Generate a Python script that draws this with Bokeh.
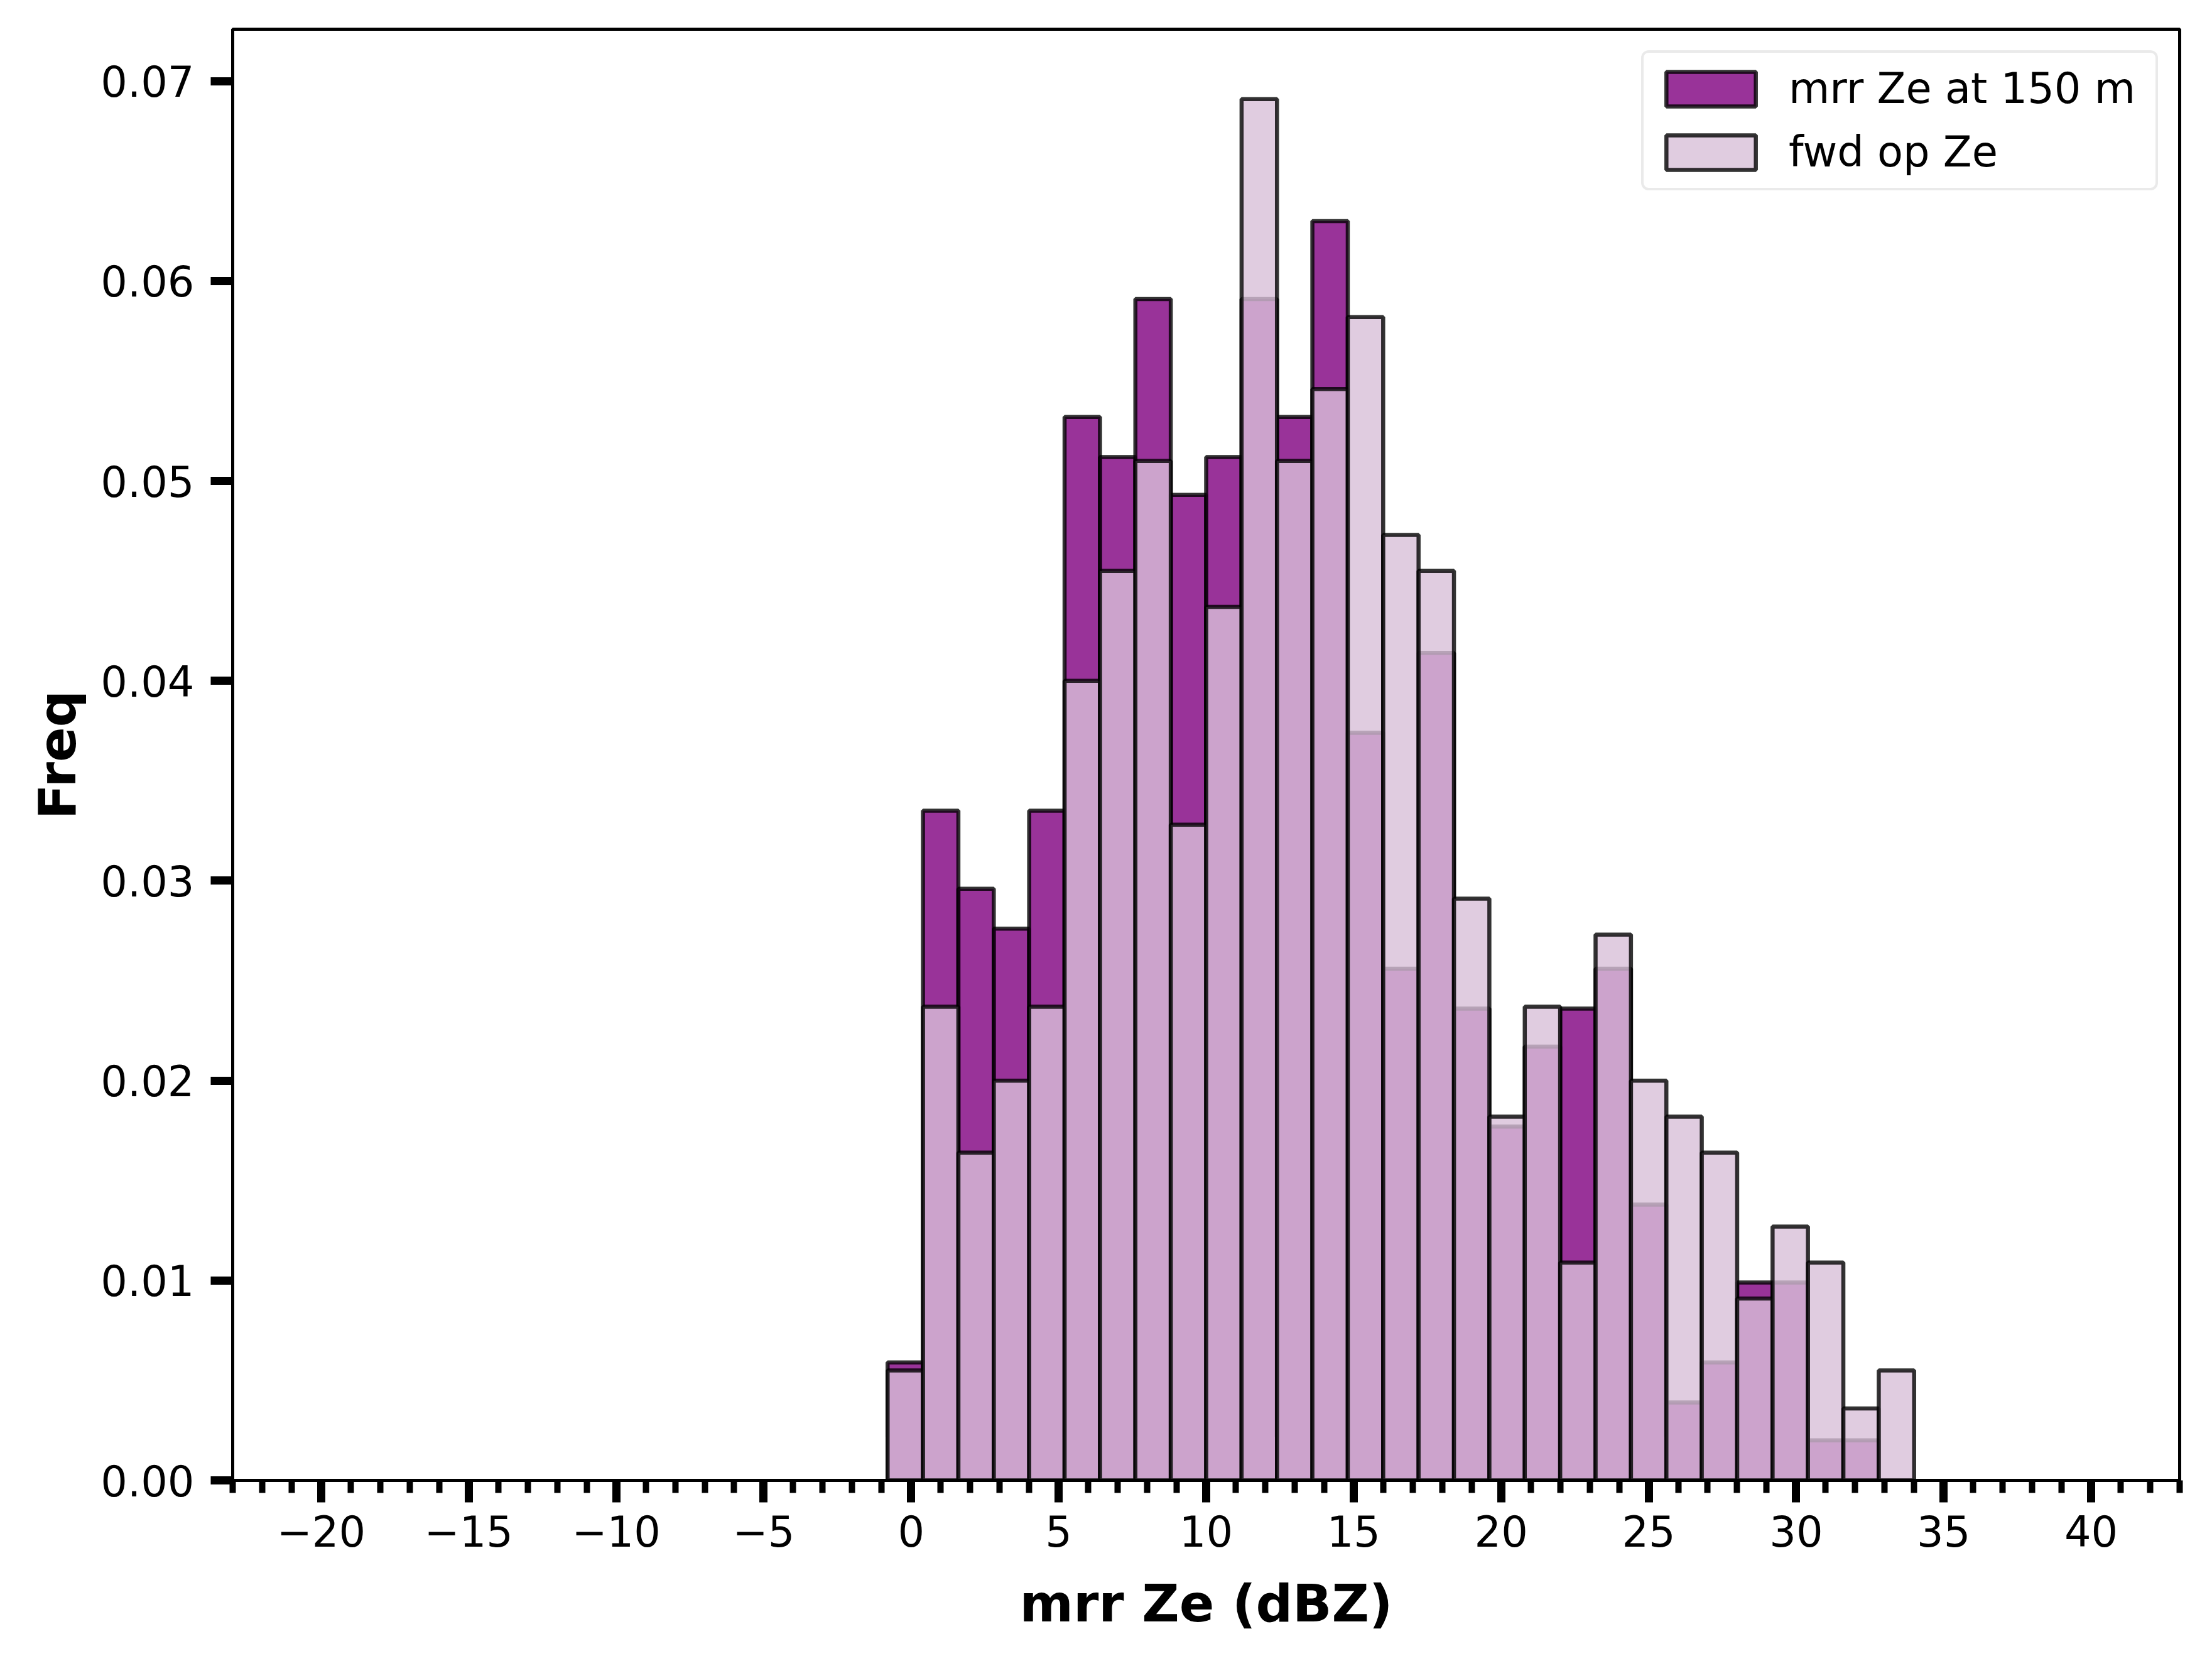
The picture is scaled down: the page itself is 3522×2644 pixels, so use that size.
from bokeh.plotting import figure
from bokeh.models import FixedTicker, PrintfTickFormatter, Legend, LegendItem
from bokeh.embed import file_html
from bokeh.resources import INLINE

# ---- data ----
bin_edges = [-0.8, 0.4, 1.6, 2.8, 4.0, 5.2, 6.4, 7.6, 8.8, 10.0,
             11.2, 12.4, 13.6, 14.8, 16.0, 17.2, 18.4, 19.6, 20.8, 22.0,
             23.2, 24.4, 25.6, 26.8, 28.0, 29.2, 30.4, 31.6, 32.8, 34.0]

mrr_freq = [0.0059, 0.0335, 0.0296, 0.0276, 0.0335, 0.0532, 0.0512, 0.0591, 0.0493, 0.0512,
            0.0591, 0.0532, 0.0630, 0.0374, 0.0256, 0.0414, 0.0236, 0.0177, 0.0217, 0.0236,
            0.0256, 0.0138, 0.0039, 0.0059, 0.0099, 0.0099, 0.0020, 0.0020, 0.0]

fwd_freq = [0.0055, 0.0237, 0.0164, 0.0200, 0.0237, 0.0400, 0.0455, 0.0510, 0.0328, 0.0437,
            0.0691, 0.0510, 0.0546, 0.0582, 0.0473, 0.0455, 0.0291, 0.0182, 0.0237, 0.0109,
            0.0273, 0.0200, 0.0182, 0.0164, 0.0091, 0.0127, 0.0109, 0.0036, 0.0055]

x_major_ticks = [-20, -15, -10, -5, 0, 5, 10, 15, 20, 25, 30, 35, 40]
x_minor_ticks = list(range(-23, 44))
y_major_ticks = [0.0, 0.01, 0.02, 0.03, 0.04, 0.05, 0.06, 0.07]

series_labels = ["mrr Ze at 150 m", "fwd op Ze"]

FONT = "DejaVu Sans"

p = figure(frame_width=3100, frame_height=2310,
           x_range=(-23, 43), y_range=(0, 0.0726),
           output_backend="svg", toolbar_location=None,
           min_border_left=370, min_border_right=35,
           min_border_top=46, min_border_bottom=262)

p.background_fill_color = "white"
p.border_fill_color = "white"
p.outline_line_color = "black"
p.outline_line_width = 5
p.xgrid.visible = False
p.ygrid.visible = False

lefts = bin_edges[:-1]
rights = bin_edges[1:]

r1 = p.quad(left=lefts, right=rights, bottom=0, top=mrr_freq,
            fill_color="purple", fill_alpha=0.8,
            line_color="black", line_alpha=0.8, line_width=6.5)
r2 = p.quad(left=lefts, right=rights, bottom=0, top=fwd_freq,
            fill_color="thistle", fill_alpha=0.8,
            line_color="black", line_alpha=0.8, line_width=6.5)

legend = Legend(items=[LegendItem(label=series_labels[0], renderers=[r1]),
                       LegendItem(label=series_labels[1], renderers=[r2])],
                location="top_right")
legend.label_text_font = FONT
legend.label_text_font_size = "67px"
legend.label_text_color = "black"
legend.glyph_width = 178
legend.glyph_height = 69
legend.label_height = 70
legend.label_width = 566
legend.label_standoff = 35
legend.spacing = 23
legend.padding = 18
legend.margin = 34
legend.border_line_color = "#d6d6d6"
legend.border_line_width = 4
legend.background_fill_color = "white"
legend.background_fill_alpha = 0.8
if "border_radius" in Legend.properties():
    legend.border_radius = 12
p.add_layout(legend)

# x axis
xa = p.xaxis[0]
xa.ticker = FixedTicker(ticks=x_major_ticks, minor_ticks=x_minor_ticks)
xa.major_label_overrides = {t: (("\u2212" + str(-t)) if t < 0 else str(t)) for t in x_major_ticks}
xa.axis_label = "mrr Ze (dBZ)"
# y axis
ya = p.yaxis[0]
ya.ticker = FixedTicker(ticks=y_major_ticks)
ya.formatter = PrintfTickFormatter(format="%.2f")
ya.axis_label = "Freq"
ya.minor_tick_line_color = None

for ax in (xa, ya):
    ax.axis_line_color = "black"
    ax.axis_line_width = 5
    ax.major_tick_line_color = "black"
    ax.major_tick_line_width = 13
    ax.major_tick_out = 35
    ax.major_tick_in = 0
    ax.minor_tick_line_width = 10
    ax.minor_tick_out = 20
    ax.minor_tick_in = 0
    ax.major_label_text_font = FONT
    ax.major_label_text_font_size = "67px"
    ax.major_label_text_color = "black"
    ax.axis_label_text_font = FONT
    ax.axis_label_text_font_size = "82px"
    ax.axis_label_text_font_style = "bold"
    ax.axis_label_text_color = "black"

xa.minor_tick_line_color = "black"
xa.major_label_standoff = 20
xa.axis_label_standoff = 40
ya.major_label_standoff = 26
ya.axis_label_standoff = 18

open("out.html", "w").write(file_html(p, INLINE))
